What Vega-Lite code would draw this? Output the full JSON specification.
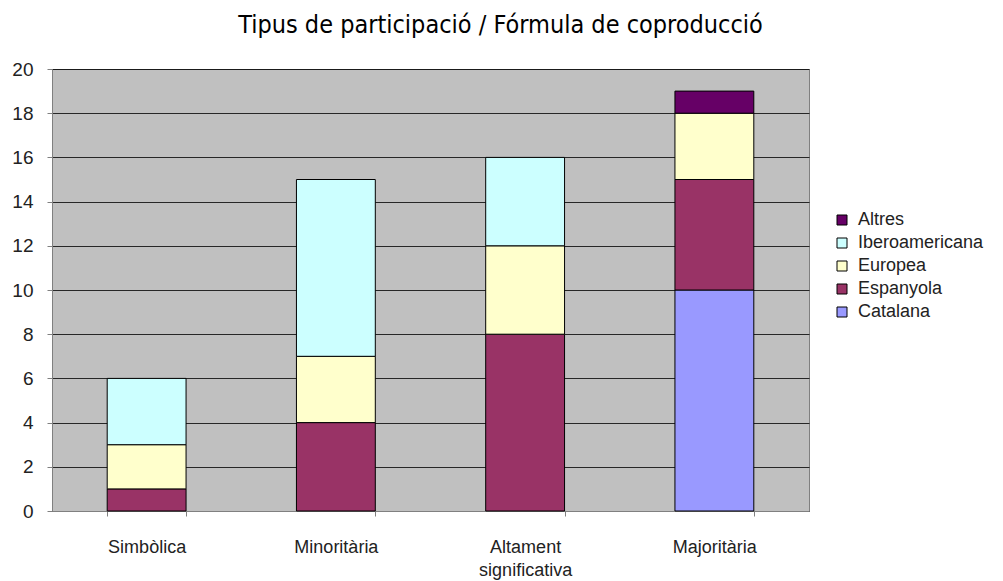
{
  "$schema": "https://vega.github.io/schema/vega-lite/v6.json",
  "autosize": "none",
  "width": 757,
  "height": 442,
  "padding": {"left": 52, "top": 69, "right": 194, "bottom": 70},
  "background": "white",
  "title": {
    "text": "Tipus de participació / Fórmula de coproducció",
    "font": "Liberation Sans Narrow, DejaVu Sans Condensed, Liberation Sans",
    "fontSize": 25,
    "fontWeight": "normal",
    "color": "#000000",
    "anchor": "middle",
    "dx": 70,
    "offset": 22
  },
  "data": {
    "values": [
      {"tipus": "Simbòlica", "formula": "Espanyola", "ord": 2, "valor": 1},
      {"tipus": "Simbòlica", "formula": "Europea", "ord": 3, "valor": 2},
      {"tipus": "Simbòlica", "formula": "Iberoamericana", "ord": 4, "valor": 3},
      {"tipus": "Minoritària", "formula": "Espanyola", "ord": 2, "valor": 4},
      {"tipus": "Minoritària", "formula": "Europea", "ord": 3, "valor": 3},
      {"tipus": "Minoritària", "formula": "Iberoamericana", "ord": 4, "valor": 8},
      {"tipus": "Altament significativa", "formula": "Espanyola", "ord": 2, "valor": 8},
      {"tipus": "Altament significativa", "formula": "Europea", "ord": 3, "valor": 4},
      {"tipus": "Altament significativa", "formula": "Iberoamericana", "ord": 4, "valor": 4},
      {"tipus": "Majoritària", "formula": "Catalana", "ord": 1, "valor": 10},
      {"tipus": "Majoritària", "formula": "Espanyola", "ord": 2, "valor": 5},
      {"tipus": "Majoritària", "formula": "Europea", "ord": 3, "valor": 3},
      {"tipus": "Majoritària", "formula": "Altres", "ord": 5, "valor": 1}
    ]
  },
  "mark": {"type": "bar", "stroke": "#000000", "strokeWidth": 1},
  "encoding": {
    "x": {
      "field": "tipus",
      "type": "nominal",
      "sort": ["Simbòlica", "Minoritària", "Altament significativa", "Majoritària"],
      "scale": {"paddingInner": 0.5833, "paddingOuter": 0.2917},
      "axis": {
        "title": null,
        "labelAngle": 0,
        "labelFont": "Liberation Sans",
        "labelFontSize": 18,
        "labelColor": "#222222",
        "labelPadding": 22,
        "labelLineHeight": 23,
        "labelExpr": "datum.label == 'Altament significativa' ? ['Altament', 'significativa'] : datum.label",
        "tickBand": "extent",
        "tickColor": "#808080",
        "tickSize": 5,
        "domainColor": "#808080",
        "grid": false
      }
    },
    "y": {
      "field": "valor",
      "type": "quantitative",
      "aggregate": "sum",
      "stack": "zero",
      "scale": {"domain": [0, 20], "nice": false},
      "axis": {
        "title": null,
        "values": [0, 2, 4, 6, 8, 10, 12, 14, 16, 18, 20],
        "labelFont": "Liberation Sans",
        "labelFontSize": 19,
        "labelColor": "#222222",
        "labelPadding": 14,
        "tickColor": "#808080",
        "tickSize": 5,
        "domainColor": "#808080",
        "grid": true,
        "gridColor": "#000000",
        "gridOpacity": 0.8,
        "gridWidth": 1
      }
    },
    "color": {
      "field": "formula",
      "type": "nominal",
      "scale": {
        "domain": ["Altres", "Iberoamericana", "Europea", "Espanyola", "Catalana"],
        "range": ["#660066", "#CCFFFF", "#FFFFCC", "#993366", "#9999FF"]
      },
      "legend": {
        "title": null,
        "orient": "none",
        "legendX": 781,
        "legendY": 142,
        "symbolType": "square",
        "symbolSize": 100,
        "symbolStrokeColor": "#000000",
        "symbolStrokeWidth": 1,
        "labelFont": "Liberation Sans",
        "labelFontSize": 18,
        "labelColor": "#222222",
        "labelOffset": 7,
        "rowPadding": 5,
        "labelLimit": 200
      }
    },
    "order": {"field": "ord", "type": "quantitative", "sort": "ascending"}
  },
  "config": {
    "view": {"fill": "#C0C0C0", "stroke": "#808080", "strokeWidth": 1}
  }
}
